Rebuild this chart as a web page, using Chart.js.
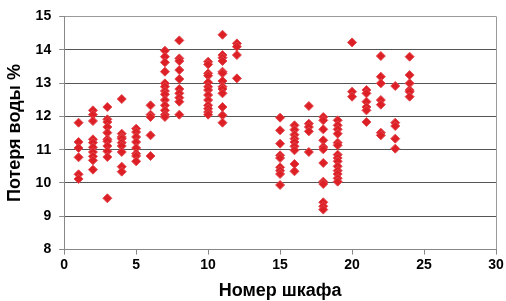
<!DOCTYPE html>
<html>
<head>
<meta charset="utf-8">
<script src="https://cdn.jsdelivr.net/npm/chart.js@4"></script>
<style>
  body { margin: 0; background: #fff; }
  #wrap { width: 506px; height: 301px; }
</style>
</head>
<body>
<div id="wrap"><canvas id="chart"></canvas></div>
<script>
// cabinet number -> water loss readings
const cabinets = [1, 2, 3, 4, 5, 6, 7, 8, 10, 11, 12, 15, 16, 17, 18, 19, 20, 21, 22, 23, 24];
const losses = [
  [11.81, 11.23, 11.05, 10.77, 10.26, 10.12],
  [12.18, 12.05, 11.86, 11.31, 11.21, 11.07, 10.93, 10.8, 10.68, 10.4],
  [12.28, 11.91, 11.83, 11.68, 11.51, 11.31, 11.25, 11.11, 10.95, 10.78, 9.54],
  [12.52, 11.48, 11.38, 11.33, 11.21, 11.11, 10.93, 10.49, 10.34],
  [11.63, 11.53, 11.38, 11.23, 11.05, 10.88, 10.81, 10.65],
  [12.33, 12.05, 11.98, 11.43, 10.81],
  [13.97, 13.79, 13.62, 13.34, 12.99, 12.89, 12.76, 12.66, 12.49, 12.33, 12.18, 12.05, 11.98],
  [14.28, 13.74, 13.66, 13.39, 13.12, 12.82, 12.69, 12.56, 12.44, 12.05],
  [13.64, 13.56, 13.29, 13.22, 13.02, 12.89, 12.79, 12.64, 12.49, 12.33, 12.23, 12.13, 12.05],
  [14.45, 13.84, 13.76, 13.66, 13.34, 13.29, 13.06, 12.89, 12.82, 12.69, 12.28, 12.03, 11.81],
  [14.19, 14.09, 13.84, 13.14],
  [11.96, 11.58, 11.18, 10.83, 10.75, 10.47, 10.37, 10.27, 9.94],
  [11.73, 11.6, 11.45, 11.33, 11.23, 11.1, 10.98, 10.57, 10.35],
  [12.31, 11.78, 11.68, 11.55, 10.93],
  [11.98, 11.88, 11.61, 11.28, 11.08, 11.01, 10.6, 10.04, 9.97, 9.42, 9.3, 9.2],
  [11.88, 11.73, 11.61, 11.48, 11.21, 11.13, 10.85, 10.75, 10.65, 10.5, 10.37, 10.27, 10.14, 10.04],
  [14.22, 12.74, 12.59],
  [12.79, 12.69, 12.44, 12.28, 12.18, 11.83],
  [13.81, 13.19, 12.99, 12.49, 12.35, 11.51, 11.43],
  [12.91, 11.81, 11.71, 11.33, 11.03],
  [13.79, 13.24, 12.99, 12.79, 12.74, 12.59]
];
const xTicks = [0, 5, 10, 15, 20, 25, 30];
const yTicks = [8, 9, 10, 11, 12, 13, 14, 15];

const points = [];
cabinets.forEach((c, i) => {
  losses[i].forEach(v => points.push({ x: c, y: v }));
});

const tickFont = { family: 'Liberation Sans', size: 14, weight: 'bold' };
const titleFont = { family: 'Liberation Sans', size: 18, weight: 'bold' };

new Chart(document.getElementById('chart'), {
  type: 'scatter',
  data: {
    datasets: [{
      data: points,
      pointStyle: 'rectRot',
      pointRadius: 4.5,
      backgroundColor: '#dd1f26',
      borderColor: '#e0474d',
      borderWidth: 1
    }]
  },
  options: {
    responsive: true,
    maintainAspectRatio: false,
    animation: false,
    layout: { padding: { left: 0, right: 10, top: 13, bottom: -5 } },
    plugins: { legend: { display: false }, tooltip: { enabled: false } },
    scales: {
      x: {
        type: 'linear',
        min: xTicks[0],
        max: xTicks[xTicks.length - 1],
        afterBuildTicks: axis => { axis.ticks = xTicks.map(v => ({ value: v })); },
        ticks: { color: '#000', font: tickFont, padding: 2, maxRotation: 0 },
        grid: {
          color: ctx => (ctx.tick && ctx.tick.value === 30 ? '#999' : 'rgba(0,0,0,0)'),
          tickColor: '#888',
          tickLength: 5
        },
        border: { color: '#888', width: 1 },
        title: { display: true, text: 'Номер шкафа', color: '#000', font: titleFont, padding: { top: 5 } }
      },
      y: {
        min: yTicks[0],
        max: yTicks[yTicks.length - 1],
        afterBuildTicks: axis => { axis.ticks = yTicks.map(v => ({ value: v })); },
        ticks: { color: '#000', font: tickFont, padding: 8 },
        grid: {
          color: ctx => (ctx.tick && ctx.tick.value === 15 ? '#999' : '#555'),
          tickColor: '#888',
          tickLength: 5
        },
        border: { color: '#888', width: 1 },
        title: { display: true, text: 'Потеря воды %', color: '#000', font: titleFont, padding: { bottom: 2 } }
      }
    }
  }
});
</script>
</body>
</html>
